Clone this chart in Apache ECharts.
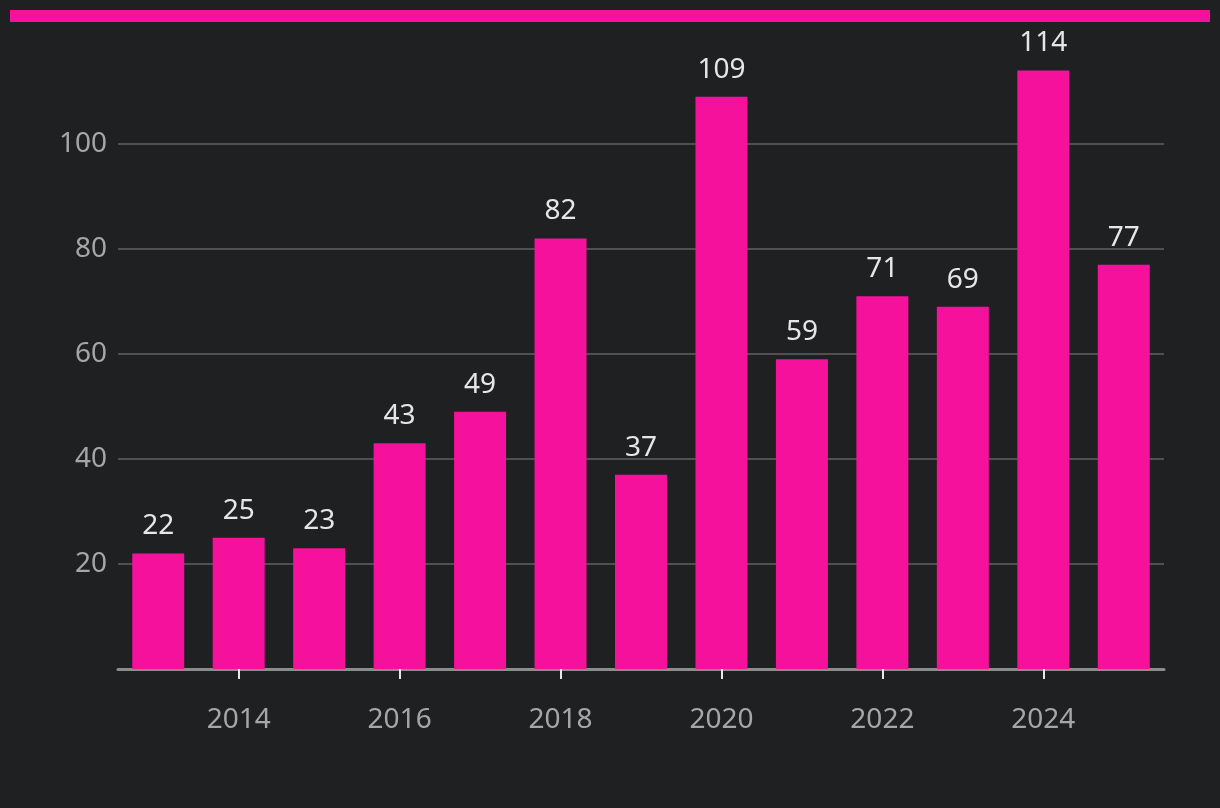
<!DOCTYPE html>
<html><head><meta charset="utf-8">
<script src="https://cdn.jsdelivr.net/npm/echarts@6/dist/echarts.min.js"></script>
<style>html,body{margin:0;padding:0;background:#1f2022;}#c{width:1220px;height:808px;}</style>
</head><body><div id="c"></div>
<script>
const years = ['2013','2014','2015','2016','2017','2018','2019','2020','2021','2022','2023','2024','2025'];
const values = [22,25,23,43,49,82,37,109,59,71,69,114,77];
const yTicks = [0,20,40,60,80,100];

const chart = echarts.init(document.getElementById('c'));
const font = '"Noto Sans", sans-serif';
chart.setOption({
  backgroundColor: '#1f2022',
  animation: false,
  graphic: [{type:'rect', shape:{x:10,y:10,width:1200,height:12}, style:{fill:'#f5119b'}}],
  grid: {left:118, right:56, top:39, bottom:139},
  xAxis: {
    type:'category', data: years,
    axisLine:{lineStyle:{color:'#8c8c8c', width:3}},
    axisTick:{show:true, alignWithLabel:true, length:10, interval:(i)=>i%2===1, lineStyle:{color:'#e8e8e8', width:2}},
    axisLabel:{interval:(i)=>i%2===1, color:'#a6a6a6', fontSize:28, fontFamily:font, margin:37}
  },
  yAxis: {
    type:'value', min:0, max:120, interval:20,
    axisLine:{show:false}, axisTick:{show:false},
    splitLine:{showMaxLine:false, lineStyle:{color:'#505050', width:2}},
    axisLabel:{showMaxLabel:false, color:'#a6a6a6', fontSize:28, fontFamily:font, margin:11,
      formatter:(v)=> (v===0 || yTicks.indexOf(v)<0) ? '' : String(v)}
  },
  series: [{
    type:'bar', data: values, barWidth:52,
    itemStyle:{color:'#f5119b'},
    label:{show:true, position:'top', distance:13, color:'#e6e6e6', fontSize:28, fontFamily:font}
  }]
});
</script></body></html>
